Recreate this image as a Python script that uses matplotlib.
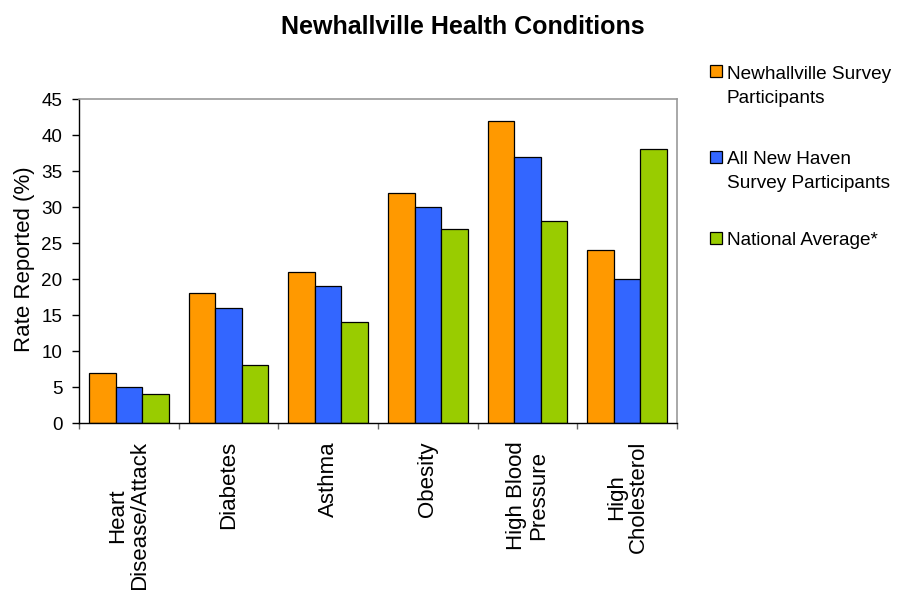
import matplotlib
matplotlib.use("Agg")
import matplotlib.pyplot as plt
from matplotlib.patches import Rectangle
import numpy as np

plt.rcParams['font.family'] = ['Liberation Sans', 'DejaVu Sans']

categories = ["Heart\nDisease/Attack", "Diabetes", "Asthma", "Obesity",
              "High Blood\nPressure", "High\nCholesterol"]
series_names = ["Newhallville Survey\nParticipants",
                "All New Haven\nSurvey Participants",
                "National Average*"]
newhallville = [7, 18, 21, 32, 42, 24]
new_haven = [5, 16, 19, 30, 37, 20]
national = [4, 8, 14, 27, 28, 38]
colors = ["#FF9900", "#3366FF", "#99CC00"]
yticks = [0, 5, 10, 15, 20, 25, 30, 35, 40, 45]

fig = plt.figure(figsize=(9.07, 5.90), dpi=100)
ax = fig.add_axes([79/907, 1 - 423/590, (677-79)/907, (423-99)/590])

x = np.arange(len(categories))
bw = 0.8 / 3
for i, (vals, c) in enumerate(zip([newhallville, new_haven, national], colors)):
    ax.bar(x - 0.4 + bw * (i + 0.5), vals, width=bw, color=c,
           edgecolor="black", linewidth=0.9, zorder=2)

ax.set_xlim(-0.5, len(categories) - 0.5)
ax.set_ylim(0, 45)
ax.set_yticks(yticks)
ax.set_yticklabels([str(v) for v in yticks], fontsize=13.6)
ax.set_xticks(x)
ax.set_xticklabels(categories, rotation=90, fontsize=16, ha='center',
                   va='top', multialignment='center', linespacing=1.05)
ax.set_xticks(np.arange(len(categories) + 1) - 0.5, minor=True)
ax.tick_params(axis='x', which='major', length=0, pad=13)
ax.tick_params(axis='x', which='minor', length=4.5, width=1, color='#666666')
ax.tick_params(axis='y', length=5, width=1, pad=7)

for s in ['top', 'right']:
    ax.spines[s].set_color('#999999')
    ax.spines[s].set_linewidth(1.2)
for s in ['left', 'bottom']:
    ax.spines[s].set_color('black')
    ax.spines[s].set_linewidth(1.0)

fig.text(25/907, 1 - 259.5/590, "Rate Reported (%)", fontsize=16,
         rotation=90, ha='center', va='center')

fig.text(463/907, 1 - 34/590, "Newhallville Health Conditions",
         fontsize=18, fontweight='bold', ha='center', va='baseline')

# legend
first_baselines = [78, 163, 245]
square_tops = [65, 151, 232]
line_step = 25
for name, c, by, st in zip(series_names, colors, first_baselines, square_tops):
    fig.patches.append(Rectangle((710/907, 1 - (st + 12)/590), 12/907, 12/590,
                                 transform=fig.transFigure, facecolor=c,
                                 edgecolor='black', linewidth=0.9))
    last_baseline = by + line_step * name.count("\n")
    fig.text(727/907, 1 - last_baseline/590, name, fontsize=13.7, ha='left',
             va='baseline', linespacing=1.55)

fig.savefig("out.png", dpi=100)
